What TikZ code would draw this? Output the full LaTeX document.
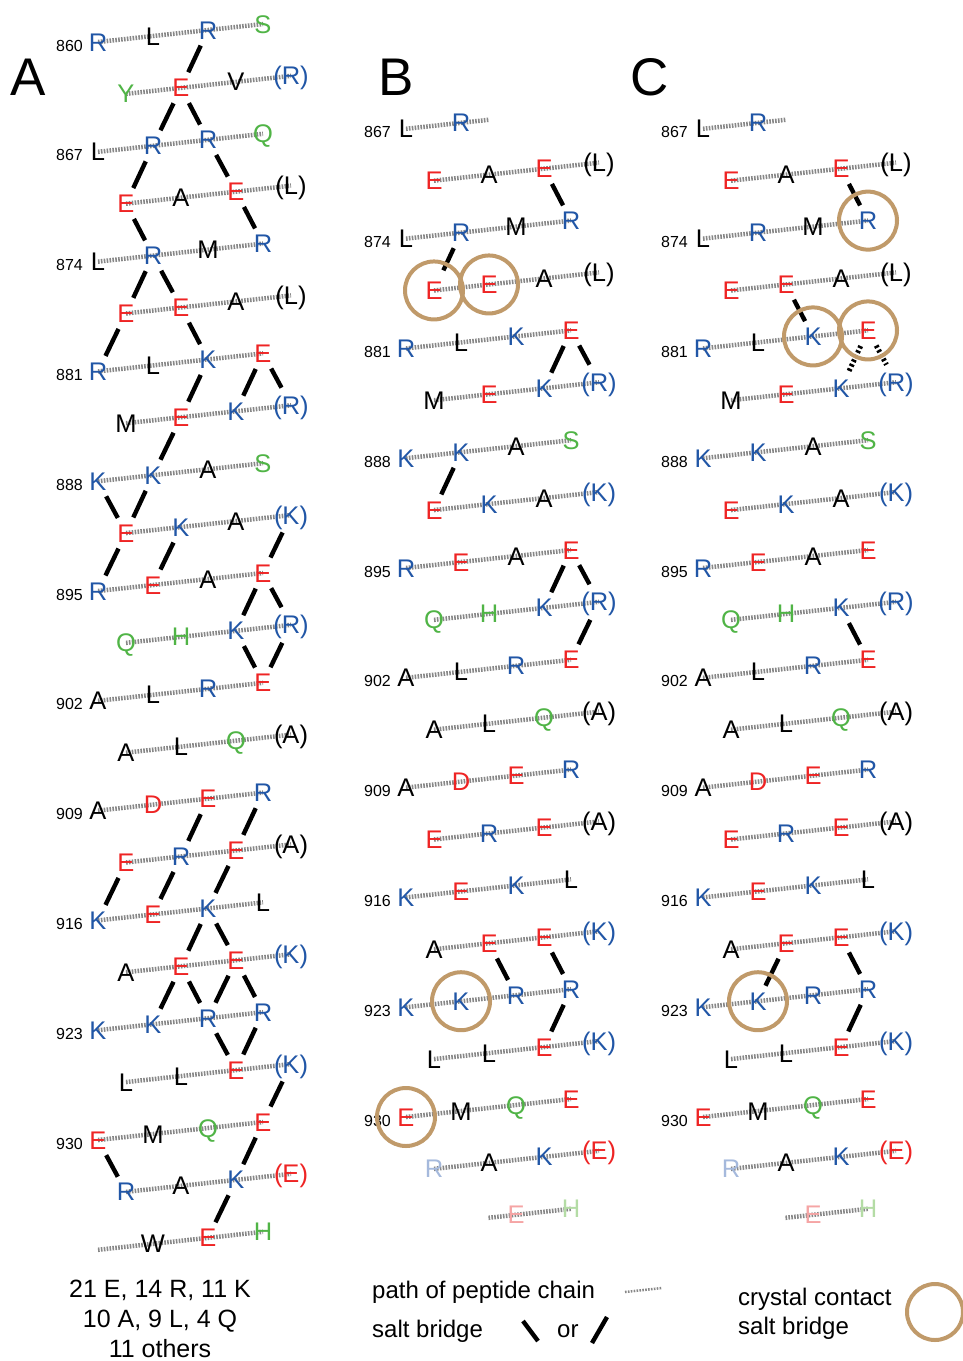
\documentclass[tikz,border=0pt]{standalone}
\usepackage{fontspec}
\setmainfont{Liberation Sans}
\usetikzlibrary{backgrounds}
\definecolor{cb}{RGB}{33,86,166}
\definecolor{cr}{RGB}{238,36,36}
\definecolor{cg}{RGB}{80,180,70}
\definecolor{lb}{RGB}{165,185,220}
\definecolor{lr}{RGB}{245,165,165}
\definecolor{lg}{RGB}{180,220,165}
\definecolor{chaingray}{RGB}{135,135,135}
\definecolor{ccirc}{RGB}{192,154,106}
\tikzset{
  res/.style={circle,inner sep=0pt,minimum size=34pt,text height=18pt,text depth=0pt,font=\fontsize{25.5}{25.5}\selectfont},
  chain/.style={draw=chaingray,line width=4.5pt,dash pattern=on 1.6pt off 1.3pt},
  bridge/.style={draw=black,line width=4.4pt},
  hbridge/.style={draw=black,line width=5pt,dash pattern=on 2.5pt off 2.5pt},
  contact/.style={draw=ccirc,line width=4pt},
  numlab/.style={anchor=base east,font=\fontsize{16}{16}\selectfont,inner sep=0pt},
  biglab/.style={anchor=base,font=\fontsize{53}{53}\selectfont,inner sep=0pt},
  legtext/.style={anchor=base west,font=\fontsize{24}{24}\selectfont,inner sep=0pt},
  sumtext/.style={anchor=base,font=\fontsize{25}{25}\selectfont,inner sep=0pt},
}
\newcommand\resrow[5]{%
  \foreach \rc/\rs/\rl in {#5}{%
    \pgfmathsetmacro\px{#2+28*mod(#4,2)+55*\rc}%
    \pgfmathsetmacro\py{#3+54.9*#4-0.109*(\px-#2)}%
    \node[res,text=\rs] (#1-#4-\rc) at (\px,\py) {\rl};%
  }%
}
\newcommand\rescoord[6]{%
  \pgfmathsetmacro\px{#2+28*mod(#4,2)+55*#5}%
  \pgfmathsetmacro\py{#3+54.9*#4-0.109*(\px-#2)}%
  \coordinate (#1-#4-#6) at (\px,\py);%
}
\newcommand\panelrows[3]{%
  \resrow{#1}{#2}{#3}{3}{0/cr/E,1/black/A,2/cr/E,3/black/{(L)}}
  \resrow{#1}{#2}{#3}{4}{0/black/L,1/cb/R,2/black/M,3/cb/R}
  \resrow{#1}{#2}{#3}{5}{0/cr/E,1/cr/E,2/black/A,3/black/{(L)}}
  \resrow{#1}{#2}{#3}{6}{0/cb/R,1/black/L,2/cb/K,3/cr/E}
  \resrow{#1}{#2}{#3}{7}{0/black/M,1/cr/E,2/cb/K,3/cb/{(R)}}
  \resrow{#1}{#2}{#3}{8}{0/cb/K,1/cb/K,2/black/A,3/cg/S}
  \resrow{#1}{#2}{#3}{9}{0/cr/E,1/cb/K,2/black/A,3/cb/{(K)}}
  \resrow{#1}{#2}{#3}{10}{0/cb/R,1/cr/E,2/black/A,3/cr/E}
  \resrow{#1}{#2}{#3}{11}{0/cg/Q,1/cg/H,2/cb/K,3/cb/{(R)}}
  \resrow{#1}{#2}{#3}{12}{0/black/A,1/black/L,2/cb/R,3/cr/E}
  \resrow{#1}{#2}{#3}{13}{0/black/A,1/black/L,2/cg/Q,3/black/{(A)}}
  \resrow{#1}{#2}{#3}{14}{0/black/A,1/cr/D,2/cr/E,3/cb/R}
  \resrow{#1}{#2}{#3}{15}{0/cr/E,1/cb/R,2/cr/E,3/black/{(A)}}
  \resrow{#1}{#2}{#3}{16}{0/cb/K,1/cr/E,2/cb/K,3/black/L}
  \resrow{#1}{#2}{#3}{17}{0/black/A,1/cr/E,2/cr/E,3/cb/{(K)}}
  \resrow{#1}{#2}{#3}{18}{0/cb/K,1/cb/K,2/cb/R,3/cb/R}
  \resrow{#1}{#2}{#3}{19}{0/black/L,1/black/L,2/cr/E,3/cb/{(K)}}
  \resrow{#1}{#2}{#3}{20}{0/cr/E,1/black/M,2/cg/Q,3/cr/E}
}
\begin{document}
\begin{tikzpicture}[x=1pt,y=-1pt]
\useasboundingbox (0,0) rectangle (963,1361);
% ---------- Panel A ----------
\resrow{A}{98}{42}{0}{0/cb/R,1/black/L,2/cb/R,3/cg/S}
\resrow{A}{98}{42}{1}{0/cg/Y,1/cr/E,2/black/V,3/cb/{(R)}}
\resrow{A}{98}{42}{2}{0/black/L,1/cb/R,2/cb/R,3/cg/Q}
\panelrows{A}{98}{42}
\resrow{A}{98}{42}{21}{0/cb/R,1/black/A,2/cb/K,3/cr/{(E)}}
\resrow{A}{98}{42}{22}{1/black/W,2/cr/E,3/cg/H}
\rescoord{A}{98}{42}{22}{0}{s}
% ---------- Panel B ----------
\resrow{B}{406}{19}{2}{0/black/L,1/cb/R}
\rescoord{B}{406}{19}{2}{1.5}{e}
\panelrows{B}{406}{19}
\resrow{B}{406}{19}{21}{0/lb/R,1/black/A,2/cb/K,3/cr/{(E)}}
\resrow{B}{406}{19}{22}{2/lr/E,3/lg/H}
\rescoord{B}{406}{19}{22}{1.5}{s}
% ---------- Panel C ----------
\resrow{C}{703}{19}{2}{0/black/L,1/cb/R}
\rescoord{C}{703}{19}{2}{1.5}{e}
\panelrows{C}{703}{19}
\resrow{C}{703}{19}{21}{0/lb/R,1/black/A,2/cb/K,3/cr/{(E)}}
\resrow{C}{703}{19}{22}{2/lr/E,3/lg/H}
\rescoord{C}{703}{19}{22}{1.5}{s}
% ---------- chains ----------
\begin{pgfonlayer}{background}
  \foreach \r in {0,...,21} \draw[chain] (A-\r-0.center) -- (A-\r-3.center);
  \draw[chain] (A-22-s) -- (A-22-3.center);
  \foreach \p in {B,C}{
    \draw[chain] (\p-2-0.center) -- (\p-2-e);
    \foreach \r in {3,...,21} \draw[chain] (\p-\r-0.center) -- (\p-\r-3.center);
    \draw[chain] (\p-22-s) -- (\p-22-3.center);
  }
\end{pgfonlayer}
% ---------- residue numbers ----------
\foreach \r in {0,2,...,20}{
  \pgfmathtruncatemacro\num{860+7*\r/2}
  \node[numlab] (A-lab-\r) at ([xshift=-15pt,yshift=-9pt]A-\r-0.center) {\num};
}
\foreach \p in {B,C}{
  \foreach \r in {2,4,...,20}{
    \pgfmathtruncatemacro\num{860+7*\r/2}
    \node[numlab] (\p-lab-\r) at ([xshift=-15pt,yshift=-9pt]\p-\r-0.center) {\num};
  }
}
% ---------- panel letters ----------
\node[biglab] (labA) at (28,95) {A};
\node[biglab] (labB) at (396,95) {B};
\node[biglab] (labC) at (650,95) {C};
% ---------- salt bridges A ----------
\foreach \a/\b in {0-2/1-1,1-1/2-1,1-1/2-2,2-1/3-0,2-2/3-2,3-0/4-1,3-2/4-3,4-1/5-0,4-1/5-1,
  5-0/6-0,5-1/6-2,6-2/7-1,6-3/7-2,6-3/7-3,7-1/8-1,8-0/9-0,8-1/9-0,9-0/10-0,9-1/10-1,9-3/10-3,
  10-3/11-2,10-3/11-3,11-2/12-3,11-3/12-3,14-2/15-1,14-3/15-2,15-0/16-0,15-1/16-1,15-2/16-2,
  16-2/17-1,16-2/17-2,17-1/18-1,17-1/18-2,17-2/18-2,17-2/18-3,18-2/19-2,18-3/19-2,19-3/20-3,
  20-3/21-2,20-0/21-0,21-2/22-2}
  \draw[bridge] (A-\a) -- (A-\b);
% ---------- salt bridges B ----------
\foreach \a/\b in {3-2/4-3,6-3/7-2,6-3/7-3,8-1/9-0,10-3/11-2,10-3/11-3,11-3/12-3,17-1/18-2,17-2/18-3,18-3/19-2}
  \draw[bridge] (B-\a) -- (B-\b);
\draw[bridge,shorten >=5pt] (B-4-1) -- (B-5-0);
% ---------- salt bridges C ----------
\foreach \a/\b in {3-2/4-3,5-1/6-2,11-2/12-3,17-1/18-1,17-2/18-3,18-3/19-2}
  \draw[bridge] (C-\a) -- (C-\b);
\draw[hbridge] (C-6-3) -- (C-7-2);
\draw[hbridge] (C-6-3) -- (C-7-3);
% ---------- crystal contacts ----------
\foreach \n in {B-5-0,B-5-1,B-18-1,B-20-0,C-4-3,C-6-2,C-6-3,C-18-1}
  \draw[contact] (\n.center) circle[radius=29pt];
% ---------- composition ----------
\node[sumtext] (sum1) at (160,1297) {21 E, 14 R, 11 K};
\node[sumtext] (sum2) at (160,1327) {10 A, 9 L, 4 Q};
\node[sumtext] (sum3) at (160,1357) {11 others};
% ---------- legend ----------
\node[legtext] (leg1) at (372,1298) {path of peptide chain};
\coordinate (legc1) at (625,1292);
\coordinate (legc2) at (662,1288);
\draw[chain,line width=2.5pt] (legc1) -- (legc2);
\node[legtext] (leg2) at (372,1337) {salt bridge};
\coordinate (legb1) at (523,1321);
\coordinate (legb2) at (538,1341);
\draw[bridge] (legb1) -- (legb2);
\node[legtext] (legor) at (557,1337) {or};
\coordinate (legb3) at (607,1317);
\coordinate (legb4) at (592,1343);
\draw[bridge] (legb3) -- (legb4);
\node[legtext] (leg3) at (738,1305) {crystal contact};
\node[legtext] (leg4) at (738,1334) {salt bridge};
\coordinate (legcirc) at (935,1312);
\draw[contact] (legcirc) circle[radius=28pt];
\end{tikzpicture}
\end{document}
